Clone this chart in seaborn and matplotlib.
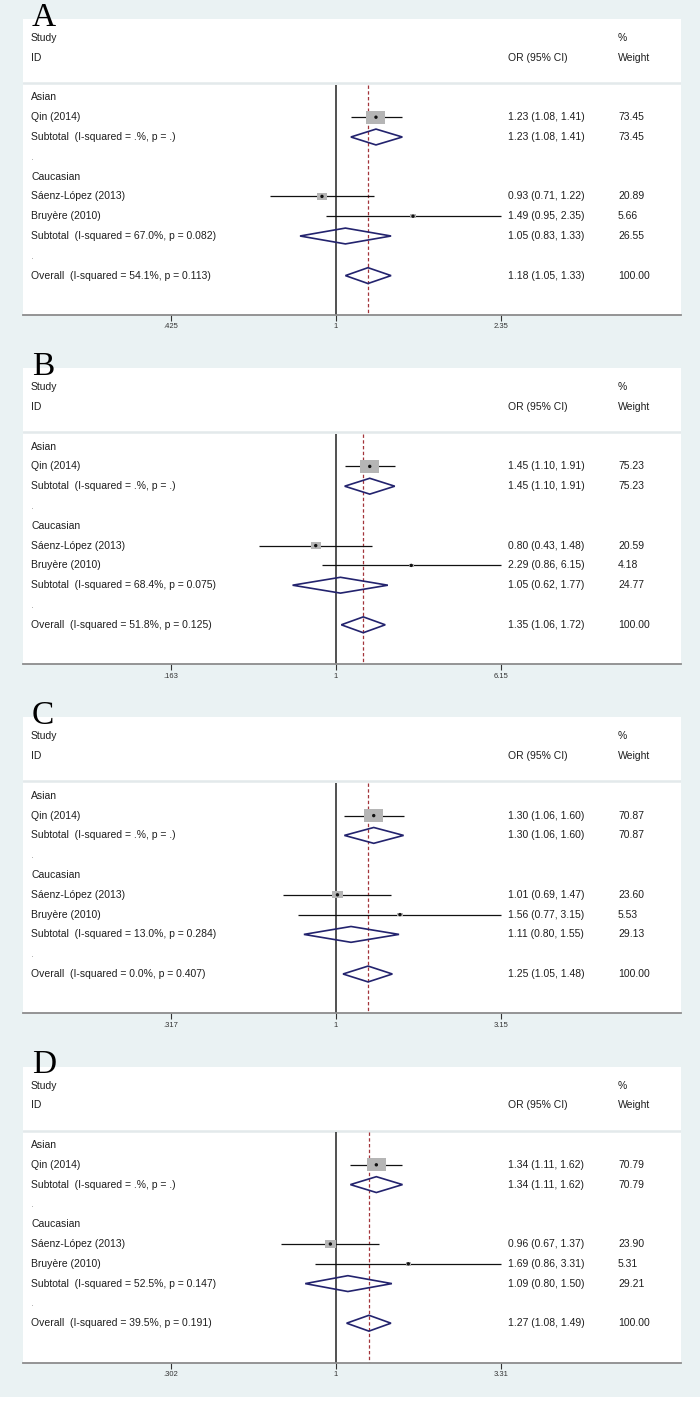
import numpy as np
import pandas as pd
import seaborn as sns
import matplotlib
matplotlib.use("Agg")
import matplotlib.pyplot as plt
from matplotlib.patches import Rectangle
from matplotlib.ticker import NullLocator
from matplotlib.transforms import blended_transform_factory

# ------------------- DATA -------------------

panels = ["A", "B", "C", "D"]
studies = ["Qin (2014)", "Sáenz-López (2013)", "Bruyère (2010)"]

study_or = [[1.23, 0.93, 1.49], [1.45, 0.80, 2.29], [1.30, 1.01, 1.56], [1.34, 0.96, 1.69]]
study_lo = [[1.08, 0.71, 0.95], [1.10, 0.43, 0.86], [1.06, 0.69, 0.77], [1.11, 0.67, 0.86]]
study_hi = [[1.41, 1.22, 2.35], [1.91, 1.48, 6.15], [1.60, 1.47, 3.15], [1.62, 1.37, 3.31]]
study_wt = [[73.45, 20.89, 5.66], [75.23, 20.59, 4.18], [70.87, 23.60, 5.53], [70.79, 23.90, 5.31]]

# pooled: Asian subtotal, Caucasian subtotal, overall
pooled_or = [[1.23, 1.05, 1.18], [1.45, 1.05, 1.35], [1.30, 1.11, 1.25], [1.34, 1.09, 1.27]]
pooled_lo = [[1.08, 0.83, 1.05], [1.10, 0.62, 1.06], [1.06, 0.80, 1.05], [1.11, 0.80, 1.08]]
pooled_hi = [[1.41, 1.33, 1.33], [1.91, 1.77, 1.72], [1.60, 1.55, 1.48], [1.62, 1.50, 1.49]]
pooled_wt = [[73.45, 26.55, 100.00], [75.23, 24.77, 100.00], [70.87, 29.13, 100.00], [70.79, 29.21, 100.00]]
pooled_i2 = [[".", "67.0", "54.1"], [".", "68.4", "51.8"], [".", "13.0", "0.0"], [".", "52.5", "39.5"]]
pooled_p = [[".", "0.082", "0.113"], [".", "0.075", "0.125"], [".", "0.284", "0.407"], [".", "0.147", "0.191"]]
pooled_names = ["Subtotal", "Subtotal", "Overall"]

axis_max = [2.35, 6.15, 3.15, 3.31]
axis_labels = [[".425", "1", "2.35"], [".163", "1", "6.15"], [".317", "1", "3.15"], [".302", "1", "3.31"]]

# ------------------- LAYOUT -------------------

W, H = 700, 1405
BG = "#eaf2f3"
TXT = "#1e1e1e"
NAVY = "#23236e"
study_rows = [4, 8, 9]
pooled_rows = [5, 10, 12]
box_marker = [(-1, -0.68), (1, -0.68), (1, 0.68), (-1, 0.68)]
S100 = 255  # marker area for weight = 100
FS = 7.5

sns.set_theme(style="white")
plt.rcParams["font.family"] = ["Liberation Sans", "DejaVu Sans"]

fig = plt.figure(figsize=(W / 100, H / 100), dpi=100, facecolor=BG)
fig.patches.append(Rectangle((0, 0), 1, 8 / H, transform=fig.transFigure,
                             facecolor="white", edgecolor="none"))

def fx(px):
    return (px - 23) / 658

for k, name in enumerate(panels):
    top = 19 + 349.2 * k
    bot = 315 + 349.2 * k
    ax = fig.add_axes([23 / W, 1 - bot / H, 658 / W, (bot - top) / H])
    ax.set_facecolor("white")
    T = axis_max[k]
    ax.set_xscale("log")
    ax.set_xlim(T ** -1.897, T ** 2.091)
    ax.set_ylim(13.99, -0.96)
    tr = blended_transform_factory(ax.transAxes, ax.transData)

    # reference lines
    ax.axhline(2.27, color="#e3e9eb", lw=1.8, zorder=1)
    ax.vlines(1, 2.35, 13.99, color="#333333", lw=1.2, zorder=1)
    ax.vlines(pooled_or[k][2], 2.35, 13.99, color="#a3343a", lw=0.9,
              linestyles=(0, (2.7, 1.9)), zorder=1)

    # studies
    df = pd.DataFrame({"or": study_or[k], "lo": study_lo[k], "hi": study_hi[k],
                       "wt": study_wt[k], "row": study_rows})
    ax.hlines(df["row"], df["lo"], df["hi"], color="#111111", lw=0.9, zorder=2)
    sns.scatterplot(data=df, x="or", y="row", size="wt", sizes=(0, S100), size_norm=(0, 100),
                    marker=box_marker, color="#b5b5b5", edgecolor="none", legend=False,
                    ax=ax, zorder=3)
    sns.scatterplot(data=df, x="or", y="row", color="#111111", s=6, marker="o",
                    edgecolor="none", legend=False, ax=ax, zorder=4)

    # pooled diamonds
    h = 0.4
    for est, lo, hi, r in zip(pooled_or[k], pooled_lo[k], pooled_hi[k], pooled_rows):
        ax.fill([lo, est, hi, est, lo], [r, r - h, r, r + h, r], facecolor="none",
                edgecolor=NAVY, lw=1.2, zorder=3)

    # text columns
    kw = dict(transform=tr, va="center", ha="left", fontsize=FS, color=TXT)
    ax.text(fx(31), 0, "Study", **kw)
    ax.text(fx(31), 1, "ID", **kw)
    ax.text(fx(508), 1, "OR (95% CI)", **kw)
    ax.text(fx(618), 0, "%", **kw)
    ax.text(fx(618), 1, "Weight", **kw)
    ax.text(fx(31), 3, "Asian", **kw)
    ax.text(fx(31), 7, "Caucasian", **kw)
    for r in [6, 11]:
        ax.text(fx(31), r, ".", transform=tr, va="center", ha="left", fontsize=FS, color="#999999")
    for i, r in enumerate(study_rows):
        ax.text(fx(31), r, studies[i], **kw)
        ax.text(fx(508), r, f"{study_or[k][i]:.2f} ({study_lo[k][i]:.2f}, {study_hi[k][i]:.2f})", **kw)
        ax.text(fx(618), r, f"{study_wt[k][i]:.2f}", **kw)
    for i, r in enumerate(pooled_rows):
        lab = f"{pooled_names[i]}  (I-squared = {pooled_i2[k][i]}%, p = {pooled_p[k][i]})"
        ax.text(fx(31), r, lab, **kw)
        ax.text(fx(508), r, f"{pooled_or[k][i]:.2f} ({pooled_lo[k][i]:.2f}, {pooled_hi[k][i]:.2f})", **kw)
        ax.text(fx(618), r, f"{pooled_wt[k][i]:.2f}", **kw)

    # axis
    for s in ["top", "left", "right"]:
        ax.spines[s].set_visible(False)
    ax.spines["bottom"].set_color("#8c8c8c")
    ax.spines["bottom"].set_linewidth(1.3)
    ax.set_yticks([])
    ax.set_xticks([1 / T, 1, T])
    ax.set_xticklabels(axis_labels[k])
    ax.xaxis.set_minor_locator(NullLocator())
    ax.tick_params(axis="x", bottom=True, direction="out", length=4, width=0.8,
                   color="#333333", labelsize=5.5, pad=2, labelcolor="#333333")
    ax.set_xlabel("")
    ax.set_ylabel("")

    # panel letter, kept above the "Study" header
    fig.text(32 / W, 1 - (32.5 + 349.2 * k) / H, name, family="Liberation Serif",
             fontsize=24, va="bottom", ha="left", color="black")

fig.savefig("out.png", dpi=100, facecolor=BG)
